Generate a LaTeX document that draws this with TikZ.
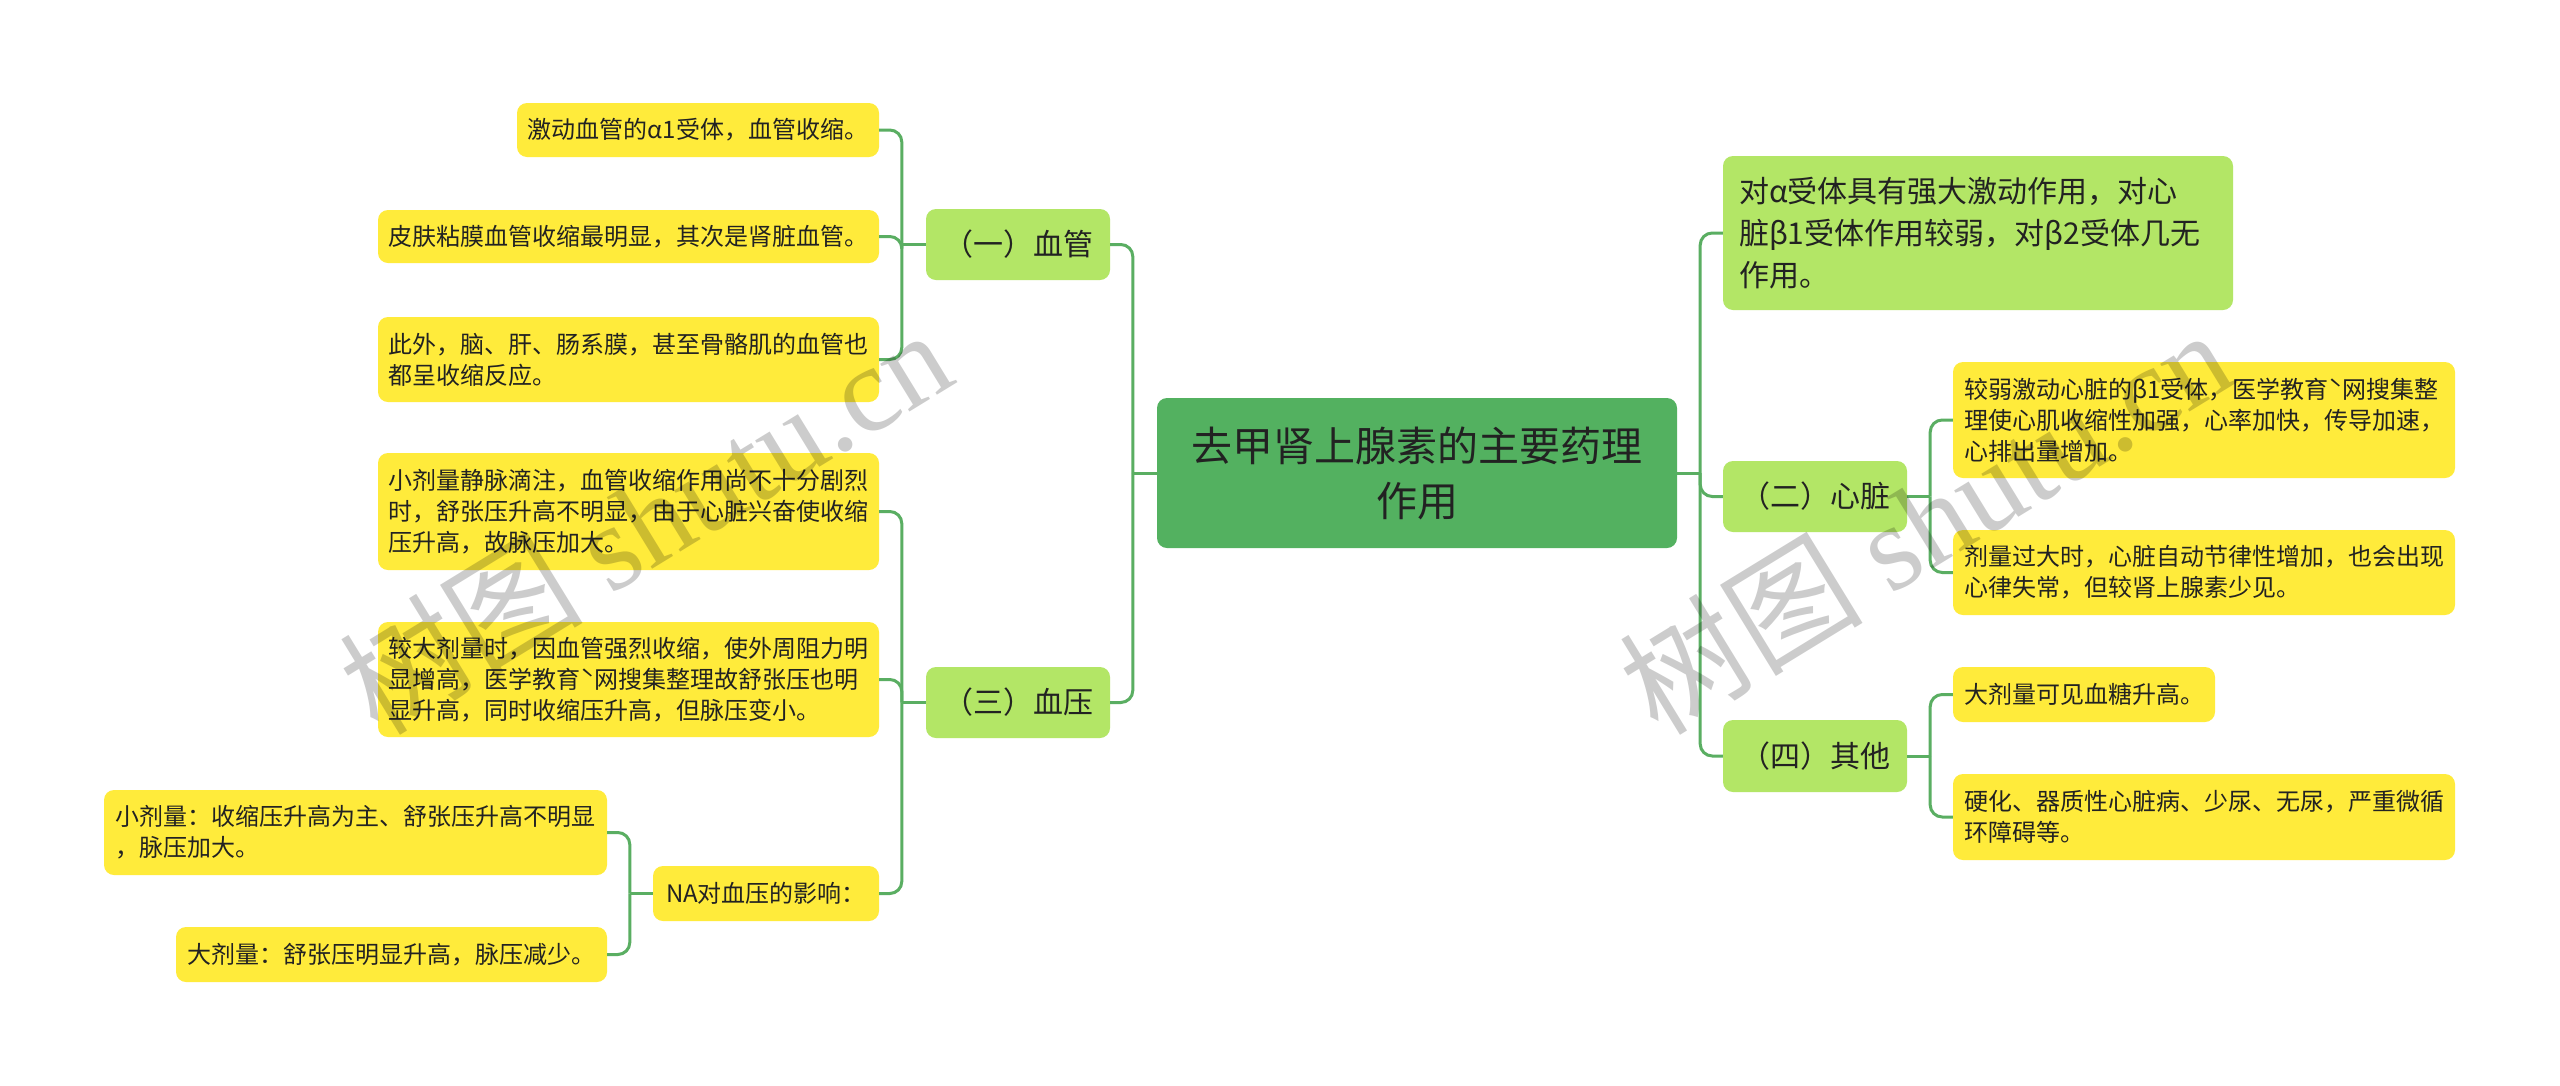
\documentclass[tikz,border=0pt]{standalone}
\usepackage{fontspec}
\setmainfont{Noto Sans CJK SC}
\newfontfamily\wmfont{Liberation Serif}
\definecolor{dgreen}{HTML}{53B160}
\definecolor{lgreen}{HTML}{B3E666}
\definecolor{yel}{HTML}{FFEB3B}
\definecolor{lineg}{HTML}{5AAE62}
\definecolor{txt}{HTML}{222222}
\begin{document}
\begin{tikzpicture}[x=1pt,y=-1pt,
  box/.style={rounded corners=10pt, inner sep=0pt, text=txt, align=left},
  leaf/.style={box, fill=yel, font=\fontsize{24}{31}\selectfont},
  branch/.style={box, fill=lgreen, font=\fontsize{30}{42}\selectfont, align=center},
  rootbox/.style={box, fill=dgreen, font=\fontsize{41}{55}\selectfont, align=center},
  conn/.style={draw=lineg, line width=3pt, rounded corners=12pt},
  wm/.style={rotate=31.5, text=black, text opacity=0.2, inner sep=0pt, font=\fontsize{122}{122}\selectfont}]
\useasboundingbox (0,0) rectangle (2560,1085);
\fill[white] (0,0) rectangle (2560,1085);

% root
\node[rootbox, minimum width=520pt, minimum height=150pt] (root) at (1417,473) {去甲肾上腺素的主要药理\\作用};

% level 1
\node[branch, minimum width=184pt, minimum height=71pt] (vessel) at (1018,244.5) {（一）血管};
\node[branch, minimum width=184pt, minimum height=71pt] (bp) at (1018,702.5) {（三）血压};
\node[branch, minimum width=184pt, minimum height=71pt] (heart) at (1815,496.5) {（二）心脏};
\node[branch, minimum width=184pt, minimum height=72pt] (other) at (1815,756) {（四）其他};
\node[branch, align=left, text width=478pt, inner xsep=16pt, minimum height=154pt] (topg) at (1978,233) {对α受体具有强大激动作用，对心\\脏β1受体作用较弱，对β2受体几无\\作用。};

% leaves: vessel
\node[leaf, minimum width=362pt, minimum height=54pt] (v1) at (698,130) {激动血管的α1受体，血管收缩。};
\node[leaf, minimum width=501pt, minimum height=53pt] (v2) at (628.5,236.5) {皮肤粘膜血管收缩最明显，其次是肾脏血管。};
\node[leaf, minimum width=501pt, minimum height=85pt] (v3) at (628.5,359.5) {此外，脑、肝、肠系膜，甚至骨骼肌的血管也\\都呈收缩反应。};

% leaves: blood pressure
\node[leaf, minimum width=501pt, minimum height=117pt] (b1) at (628.5,511.5) {小剂量静脉滴注，血管收缩作用尚不十分剧烈\\时，舒张压升高不明显，由于心脏兴奋使收缩\\压升高，故脉压加大。};
\node[leaf, minimum width=501pt, minimum height=115pt] (b2) at (628.5,679.5) {较大剂量时，因血管强烈收缩，使外周阻力明\\显增高，医学教育ˋ网搜集整理故舒张压也明\\显升高，同时收缩压升高，但脉压变小。};
\node[leaf, minimum width=226pt, minimum height=55pt] (na) at (766,893.5) {NA对血压的影响：};
\node[leaf, minimum width=503pt, minimum height=85pt] (n1) at (355.5,832.5) {小剂量：收缩压升高为主、舒张压升高不明显\\，脉压加大。};
\node[leaf, minimum width=431pt, minimum height=55pt] (n2) at (391.5,954.5) {大剂量：舒张压明显升高，脉压减少。};

% leaves: heart
\node[leaf, minimum width=502pt, minimum height=116pt] (h1) at (2204,420) {较弱激动心脏的β1受体，医学教育ˋ网搜集整\\理使心肌收缩性加强，心率加快，传导加速，\\心排出量增加。};
\node[leaf, minimum width=502pt, minimum height=85pt] (h2) at (2204,572.5) {剂量过大时，心脏自动节律性增加，也会出现\\心律失常，但较肾上腺素少见。};

% leaves: other
\node[leaf, minimum width=262pt, minimum height=55pt] (o1) at (2084,694.5) {大剂量可见血糖升高。};
\node[leaf, minimum width=502pt, minimum height=86pt] (o2) at (2204,817) {硬化、器质性心脏病、少尿、无尿，严重微循\\环障碍等。};

% junction coordinates
\coordinate (jl) at ([xshift=-24pt]root.west);
\coordinate (jr) at ([xshift=23pt]root.east);
\coordinate (jv) at ([xshift=-24pt]vessel.west);
\coordinate (jb) at ([xshift=-24pt]bp.west);
\coordinate (jn) at ([xshift=-23pt]na.west);
\coordinate (jh) at ([xshift=23pt]heart.east);
\coordinate (jo) at ([xshift=23pt]other.east);

% connectors
\draw[conn] (root.west) -- (jl);
\draw[conn] (jl) |- (vessel.east);
\draw[conn] (jl) |- (bp.east);
\draw[conn] (root.east) -- (jr);
\draw[conn] (jr) |- (topg.west);
\draw[conn] (jr) |- (heart.west);
\draw[conn] (jr) |- (other.west);

\draw[conn] (vessel.west) -- (jv);
\draw[conn] (jv) |- (v1.east);
\draw[conn] (jv) |- (v2.east);
\draw[conn] (jv) |- (v3.east);

\draw[conn] (bp.west) -- (jb);
\draw[conn] (jb) |- (b1.east);
\draw[conn] (jb) |- (b2.east);
\draw[conn] (jb) |- (na.east);

\draw[conn] (na.west) -- (jn);
\draw[conn] (jn) |- (n1.east);
\draw[conn] (jn) |- (n2.east);

\draw[conn] (heart.east) -- (jh);
\draw[conn] (jh) |- (h1.west);
\draw[conn] (jh) |- (h2.west);

\draw[conn] (other.east) -- (jo);
\draw[conn] (jo) |- (o1.west);
\draw[conn] (jo) |- (o2.west);

% watermarks
\node[wm] (wm1) at (645,520) {树图 {\wmfont shutu.cn}};
\node[wm] (wm2) at (1925,520) {树图 {\wmfont shutu.cn}};
\end{tikzpicture}
\end{document}
